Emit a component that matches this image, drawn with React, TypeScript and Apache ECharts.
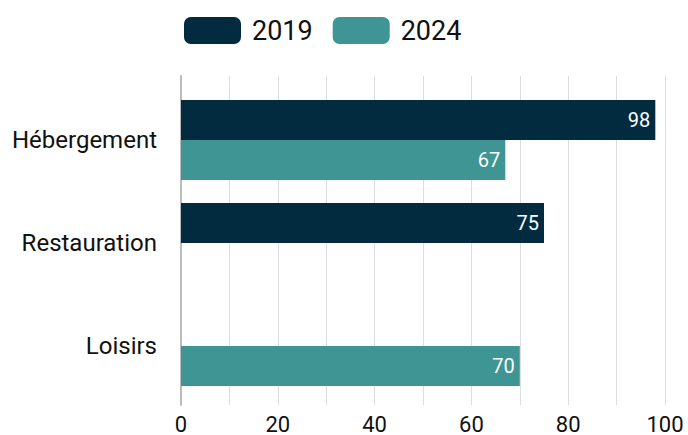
import React, { useEffect, useRef } from "react";
import * as echarts from "echarts";

const categories = ["Hébergement", "Restauration", "Loisirs"];
const series2019 = [98, 75, null];
const series2024 = [67, null, 70];
const tickValues = [0, 20, 40, 60, 80, 100];
const seriesNames = ["2019", "2024"];
const colors = ["#022B3F", "#3E9594"];

export default function App() {
  const ref = useRef<HTMLDivElement>(null);
  useEffect(() => {
    if (!ref.current) return;
    const chart = echarts.init(ref.current, null, { renderer: "svg" });
    const font = "Roboto";
    chart.setOption({
      animation: false,
      textStyle: { fontFamily: font },
      legend: {
        top: 12,
        left: 179,
        itemWidth: 57,
        itemHeight: 27,
        itemGap: 20,
        icon: "roundRect",
        data: seriesNames,
        textStyle: { fontSize: 27, color: "#111", fontFamily: font, padding: [0, 0, 0, 6] },
      },
      grid: [
        { left: 181, right: 23, top: 88.5, bottom: 37.5 },
        { left: 181, right: 23, top: 76, bottom: 28 },
      ],
      xAxis: [
        { type: "value", gridIndex: 0, min: 0, max: 100, show: false },
        {
          type: "value",
          gridIndex: 1,
          min: 0,
          max: 100,
          interval: 10,
          axisLine: { show: false },
          axisTick: { show: false },
          splitLine: { show: true, lineStyle: { color: "#dddddd", width: 1 } },
          axisLabel: {
            fontSize: 22,
            color: "#111",
            fontFamily: font,
            margin: 8,
            formatter: (v: number) => (tickValues.includes(v) ? String(v) : ""),
          },
        },
      ],
      yAxis: [
        {
          type: "category",
          gridIndex: 0,
          data: categories,
          inverse: true,
          axisLine: { show: false },
          axisTick: { show: false },
          axisLabel: { fontSize: 24, color: "#111", fontFamily: font, margin: 24, padding: [0, 0, 5, 0] },
        },
        {
          type: "value",
          gridIndex: 1,
          axisLine: { show: true, lineStyle: { color: "#bbbbbb", width: 2 } },
          axisTick: { show: false },
          axisLabel: { show: false },
          splitLine: { show: false },
        },
      ],
      series: [
        {
          name: seriesNames[0],
          type: "bar",
          xAxisIndex: 0,
          yAxisIndex: 0,
          data: series2019,
          barWidth: 40,
          barGap: "0%",
          itemStyle: { color: colors[0] },
          label: { show: true, position: "insideRight", color: "#fff", fontSize: 20, fontFamily: font, distance: 5, padding: [0, 0, 4, 0] },
        },
        {
          name: seriesNames[1],
          type: "bar",
          xAxisIndex: 0,
          yAxisIndex: 0,
          data: series2024,
          barWidth: 40,
          barGap: "0%",
          itemStyle: { color: colors[1] },
          label: { show: true, position: "insideRight", color: "#fff", fontSize: 20, fontFamily: font, distance: 5, padding: [0, 0, 4, 0] },
        },
      ],
    });
    return () => chart.dispose();
  }, []);
  return <div ref={ref} style={{ width: 688, height: 435, position: "absolute", left: 0, top: 0 }} />;
}
